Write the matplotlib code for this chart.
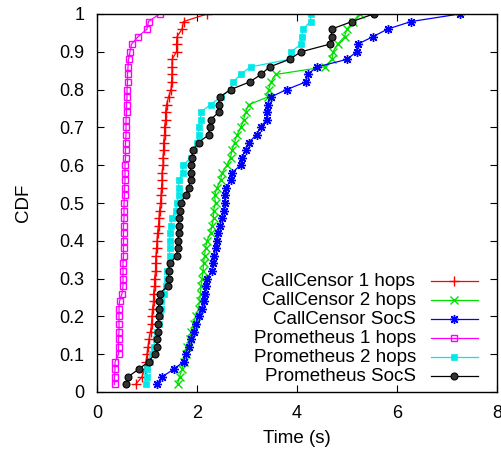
import numpy as np
import matplotlib
matplotlib.use("Agg")
import matplotlib.pyplot as plt

plt.rcParams['font.family'] = ['Liberation Sans', 'DejaVu Sans']

cdf = np.round(np.arange(1, 51) * 0.02, 2)

cc_1hops = [0.77, 0.90, 0.95, 0.98, 1.00, 1.02, 1.04, 1.07, 1.09, 1.10,
            1.11, 1.13, 1.13, 1.15, 1.15, 1.17, 1.17, 1.18, 1.19, 1.20,
            1.21, 1.23, 1.24, 1.25, 1.27,
            1.28, 1.29, 1.30, 1.30, 1.32, 1.32, 1.33, 1.33, 1.35, 1.35,
            1.37, 1.37, 1.39, 1.43, 1.48, 1.49, 1.50, 1.50, 1.50, 1.59,
            1.59, 1.60, 1.70, 1.73, 2.20]

cc_2hops = [1.61, 1.65, 1.70, 1.73, 1.77, 1.80, 1.85, 1.88, 1.93, 1.97,
            2.03, 2.05, 2.07, 2.08, 2.10, 2.12, 2.13, 2.15, 2.17, 2.20,
            2.27, 2.30, 2.33, 2.33, 2.37,
            2.35, 2.40, 2.47, 2.50, 2.60, 2.67, 2.70, 2.75, 2.80, 2.88,
            2.93, 2.97, 3.03, 3.41, 3.43, 3.48, 3.57, 4.55, 4.70, 4.72,
            4.81, 4.95, 5.00, 5.12, 5.25]

cc_socs = [1.20, 1.30, 1.53, 1.73, 1.77, 1.83, 1.88, 1.93, 1.97, 2.03,
           2.10, 2.13, 2.15, 2.17, 2.20, 2.30, 2.32, 2.33, 2.37, 2.39,
           2.41, 2.45, 2.50, 2.53, 2.55,
           2.56, 2.58, 2.67, 2.70, 2.87, 2.90, 2.97, 3.03, 3.19, 3.27,
           3.39, 3.40, 3.41, 3.47, 3.79, 4.17, 4.21, 4.40, 5.00, 5.19,
           5.21, 5.52, 5.81, 6.28, 7.25]

pr_1hops = [0.35, 0.35, 0.36, 0.36, 0.43, 0.43, 0.43, 0.44, 0.44, 0.44,
            0.44, 0.45, 0.50, 0.52, 0.52, 0.52, 0.52, 0.53, 0.53, 0.53,
            0.53, 0.53, 0.54, 0.54, 0.54,
            0.55, 0.55, 0.56, 0.56, 0.56, 0.57, 0.57, 0.57, 0.58, 0.58,
            0.58, 0.59, 0.59, 0.60, 0.60, 0.61, 0.61, 0.62, 0.63, 0.66,
            0.69, 0.82, 1.00, 1.03, 1.25]

pr_2hops = [0.97, 0.99, 1.00, 1.05, 1.10, 1.13, 1.17, 1.19, 1.23, 1.25,
            1.27, 1.27, 1.33, 1.37, 1.39, 1.40, 1.45, 1.45, 1.45, 1.45,
            1.46, 1.47, 1.50, 1.57, 1.60,
            1.63, 1.63, 1.64, 1.71, 1.72, 1.88, 1.93, 2.00, 2.03, 2.03,
            2.07, 2.07, 2.27, 2.47, 2.67, 2.72, 2.87, 3.07, 3.85, 3.88,
            4.08, 4.10, 4.12, 4.27, 4.27]

pr_socs = [0.57, 0.62, 0.83, 1.03, 1.15, 1.20, 1.20, 1.21, 1.22, 1.23,
           1.23, 1.24, 1.25, 1.41, 1.43, 1.43, 1.45, 1.59, 1.61, 1.62,
           1.63, 1.63, 1.63, 1.65, 1.67,
           1.77, 1.83, 1.87, 1.87, 1.87, 1.90, 1.92, 2.03, 2.23, 2.25,
           2.27, 2.43, 2.43, 2.45, 2.67, 3.05, 3.28, 3.45, 3.85, 4.08,
           4.65, 4.69, 4.69, 5.10, 5.53]

labels = ["CallCensor 1 hops", "CallCensor 2 hops", "CallCensor SocS",
          "Prometheus 1 hops", "Prometheus 2 hops", "Prometheus SocS"]
xticks = [0, 2, 4, 6, 8]
yticks = [0, 0.1, 0.2, 0.3, 0.4, 0.5, 0.6, 0.7, 0.8, 0.9, 1]
ytick_labels = ["0", "0.1", "0.2", "0.3", "0.4", "0.5", "0.6", "0.7", "0.8", "0.9", "1"]

W, H = 501, 451
fig = plt.figure(figsize=(W / 100, H / 100), dpi=100)
ax = fig.add_axes([97 / W, 59 / H, 400 / W, 378 / H])

series = [cc_1hops, cc_2hops, cc_socs, pr_1hops, pr_2hops, pr_socs]
styles = [
    dict(color='#ff0000', marker='+', ms=7, mew=1.0),
    dict(color='#00e000', marker='x', ms=5.5, mew=1.0),
    dict(color='#0000ff', marker=(8, 2, 0), ms=6.5, mew=1.0),
    dict(color='#ff00ff', marker='s', ms=5, mew=1.0, mfc='none'),
    dict(color='#00e8e8', marker='s', ms=5, mew=0.5),
    dict(color='#000000', marker='o', ms=5, mew=0.8, mfc='#333333'),
]
handles = []
for vals, lab, st in zip(series, labels, styles):
    h, = ax.plot(vals, cdf, lw=0.9, label=lab, **st)
    handles.append(h)

ax.set_xlim(0, 8)
ax.set_ylim(0, 1)
ax.set_xticks(xticks)
ax.set_yticks(yticks)
ax.set_yticklabels(ytick_labels)
ax.tick_params(direction='in', length=5, width=0.8, top=True, right=True,
               labelsize=13, pad=9)
for s in ax.spines.values():
    s.set_linewidth(1.0)
ax.set_xlabel("Time (s)", fontsize=13.5, labelpad=6)
ax.set_ylabel("CDF", fontsize=13.5, labelpad=20)

# legend: handles only, label texts added right-aligned to their left
fs = 13.5
leg = ax.legend(handles, [' '] * len(handles), loc='lower right',
                bbox_to_anchor=((483 - 97) / 400, (392 - 387) / 378),
                frameon=False, markerfirst=True, fontsize=fs,
                handlelength=2.5, handletextpad=0.0, labelspacing=0.1,
                borderaxespad=0.0, borderpad=0.0)
fig.canvas.draw()
renderer = fig.canvas.get_renderer()
for lh, lab in zip(leg.legend_handles, labels):
    bb = lh.get_window_extent(renderer)
    x = bb.x0 - 11
    y = (bb.y0 + bb.y1) / 2
    fig.text(x / W, y / H, lab, ha='right', va='center', fontsize=fs)

fig.savefig("out.png", dpi=100)
